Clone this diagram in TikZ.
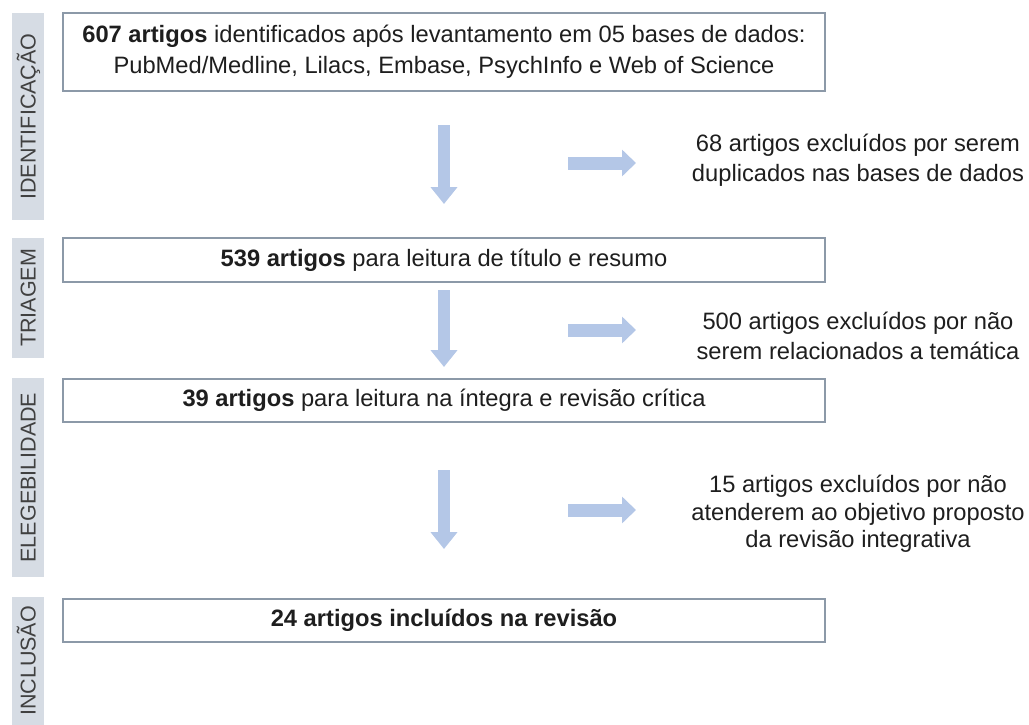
\documentclass[tikz,border=0pt]{standalone}
\usepackage{fontspec}
\setmainfont{Liberation Sans}
\usetikzlibrary{arrows.meta}
\definecolor{barfill}{HTML}{D6DCE4}
\definecolor{bartext}{HTML}{404040}
\definecolor{boxline}{HTML}{8C99A8}
\definecolor{arrowfill}{HTML}{B4C7E7}
\definecolor{maintext}{HTML}{1E1E1E}
\tikzset{
  sidebar/.style={fill=barfill, draw=none, inner sep=0pt, minimum width=32pt},
  sidelabel/.style={rotate=90, text=bartext, font=\fontsize{21.5}{24}\selectfont, inner sep=0pt, text height=15.4pt, text depth=0pt},
  stagebox/.style={draw=boxline, line width=1.1pt, fill=white, minimum width=762pt, inner sep=0pt, text=maintext, font=\fontsize{23.7}{31}\selectfont, align=center},
  exclnote/.style={text=maintext, font=\fontsize{23.7}{30}\selectfont, align=center, inner sep=0pt},
  downarr/.style={draw=arrowfill, line width=12pt, -{Triangle[width=26pt,length=17pt]}},
  rightarr/.style={draw=arrowfill, line width=13pt, -{Triangle[width=26pt,length=14pt]}}
}
\begin{document}
\begin{tikzpicture}[x=1pt,y=-1pt]
\useasboundingbox (0,0) rectangle (1029,725);
% side bars
\node[sidebar, minimum height=207pt] (s1) at (28,116.5) {};
\node[sidebar, minimum height=120pt] (s2) at (28,298) {};
\node[sidebar, minimum height=199pt] (s3) at (28,477.5) {};
\node[sidebar, minimum height=128pt] (s4) at (28,661) {};
\node[sidelabel] (l1) at (s1) {IDENTIFICAÇÃO};
\node[sidelabel] (l2) at (s2) {TRIAGEM};
\node[sidelabel] (l3) at (s3) {ELEGEBILIDADE};
\node[sidelabel] (l4) at (s4) {INCLUSÃO};
% boxes
\node[stagebox, minimum height=78pt] (b1) at (444,52) {\textbf{607 artigos} identificados após levantamento em 05 bases de dados:\\PubMed/Medline, Lilacs, Embase, PsychInfo e Web of Science};
\node[stagebox, minimum height=44pt] (b2) at (444,260) {\textbf{539 artigos} para leitura de título e resumo};
\node[stagebox, minimum height=43pt] (b3) at (444,400.5) {\textbf{39 artigos} para leitura na íntegra e revisão crítica};
\node[stagebox, minimum height=43pt] (b4) at (444,620.5) {\textbf{24 artigos incluídos na revisão}};
% exclusion notes
\node[exclnote] (e1) at (858,160) {68 artigos excluídos por serem\\duplicados nas bases de dados};
\node[exclnote] (e2) at (858,336) {500 artigos excluídos por não\\serem relacionados a temática};
\node[exclnote, font=\fontsize{23.7}{27.5}\selectfont] (e3) at (858,514) {15 artigos excluídos por não\\atenderem ao objetivo proposto\\da revisão integrativa};
% arrow coordinates
\coordinate (d1s) at (444,125); \coordinate (d1e) at (444,204);
\coordinate (r1s) at (568,163); \coordinate (r1e) at (636,163);
\coordinate (d2s) at (444,290); \coordinate (d2e) at (444,367);
\coordinate (r2s) at (568,330); \coordinate (r2e) at (636,330);
\coordinate (d3s) at (444,470); \coordinate (d3e) at (444,549);
\coordinate (r3s) at (568,510); \coordinate (r3e) at (636,510);
\draw[downarr] (d1s) -- (d1e);
\draw[rightarr] (r1s) -- (r1e);
\draw[downarr] (d2s) -- (d2e);
\draw[rightarr] (r2s) -- (r2e);
\draw[downarr] (d3s) -- (d3e);
\draw[rightarr] (r3s) -- (r3e);
\end{tikzpicture}
\end{document}
